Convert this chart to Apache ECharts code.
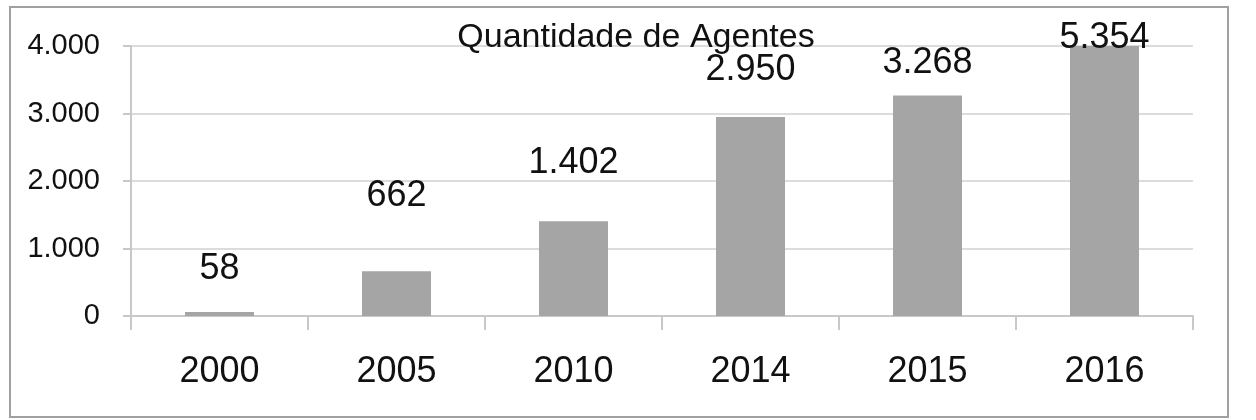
<!DOCTYPE html>
<html>
<head>
<meta charset="utf-8">
<script src="https://cdn.jsdelivr.net/npm/echarts@6/dist/echarts.min.js"></script>
<style>
html,body{margin:0;padding:0;background:#fff;}
#chart{width:1256px;height:420px;}
</style>
</head>
<body>
<div id="chart"></div>
<script>
const titleText = 'Quantidade de Agentes';
const categories = ['2000', '2005', '2010', '2014', '2015', '2016'];
const agentes = [58, 662, 1402, 2950, 3268, 5354];
const yTicks = { min: 0, max: 4000, interval: 1000 };

// layout only: vertical lift of each value label above its bar (px)
const labelLift = [28, 60, 43, 32, 17, -7];

function fmt(v) {
  return String(v).replace(/\B(?=(\d{3})+(?!\d))/g, '.');
}

const font = '"Liberation Sans", Arial, sans-serif';

const chart = echarts.init(document.getElementById('chart'), null, { renderer: 'canvas' });
chart.setOption({
  backgroundColor: '#ffffff',
  animation: false,
  title: {
    text: titleText,
    left: 631,
    textAlign: 'center',
    top: 16,
    textStyle: { fontFamily: font, fontSize: 34, fontWeight: 'normal', color: '#111', lineHeight: 34 }
  },
  graphic: [{
    type: 'rect',
    shape: { x: 10, y: 7, width: 1218, height: 410 },
    style: { fill: 'none', stroke: '#a0a0a0', lineWidth: 2 },
    z: 100
  }],
  grid: { left: 131, right: 63, top: 46, bottom: 104, containLabel: false },
  xAxis: {
    type: 'category',
    data: categories,
    axisLine: { show: true, lineStyle: { color: '#c8c8c8', width: 2 } },
    axisTick: { show: true, length: 14, lineStyle: { color: '#c8c8c8', width: 2 } },
    axisLabel: { margin: 38, fontFamily: font, fontSize: 36, color: '#111', lineHeight: 36 }
  },
  yAxis: {
    type: 'value',
    min: yTicks.min,
    max: yTicks.max,
    interval: yTicks.interval,
    axisLine: { show: true, lineStyle: { color: '#c8c8c8', width: 2 } },
    axisTick: { show: true, length: 8, lineStyle: { color: '#c8c8c8', width: 2 } },
    splitLine: { show: true, lineStyle: { color: '#dcdcdc', width: 2 } },
    axisLabel: { margin: 31, fontFamily: font, fontSize: 29, color: '#111', formatter: v => fmt(v) }
  },
  series: [{
    type: 'bar',
    data: agentes.map((v, i) => ({
      value: v,
      label: { distance: 0, offset: [0, -labelLift[i]] }
    })),
    barWidth: 69,
    clip: true,
    itemStyle: { color: '#a5a5a5' },
    label: {
      show: true,
      position: 'top',
      fontFamily: font,
      fontSize: 36,
      lineHeight: 30,
      color: '#111',
      formatter: p => fmt(p.value)
    }
  }]
});
</script>
</body>
</html>
